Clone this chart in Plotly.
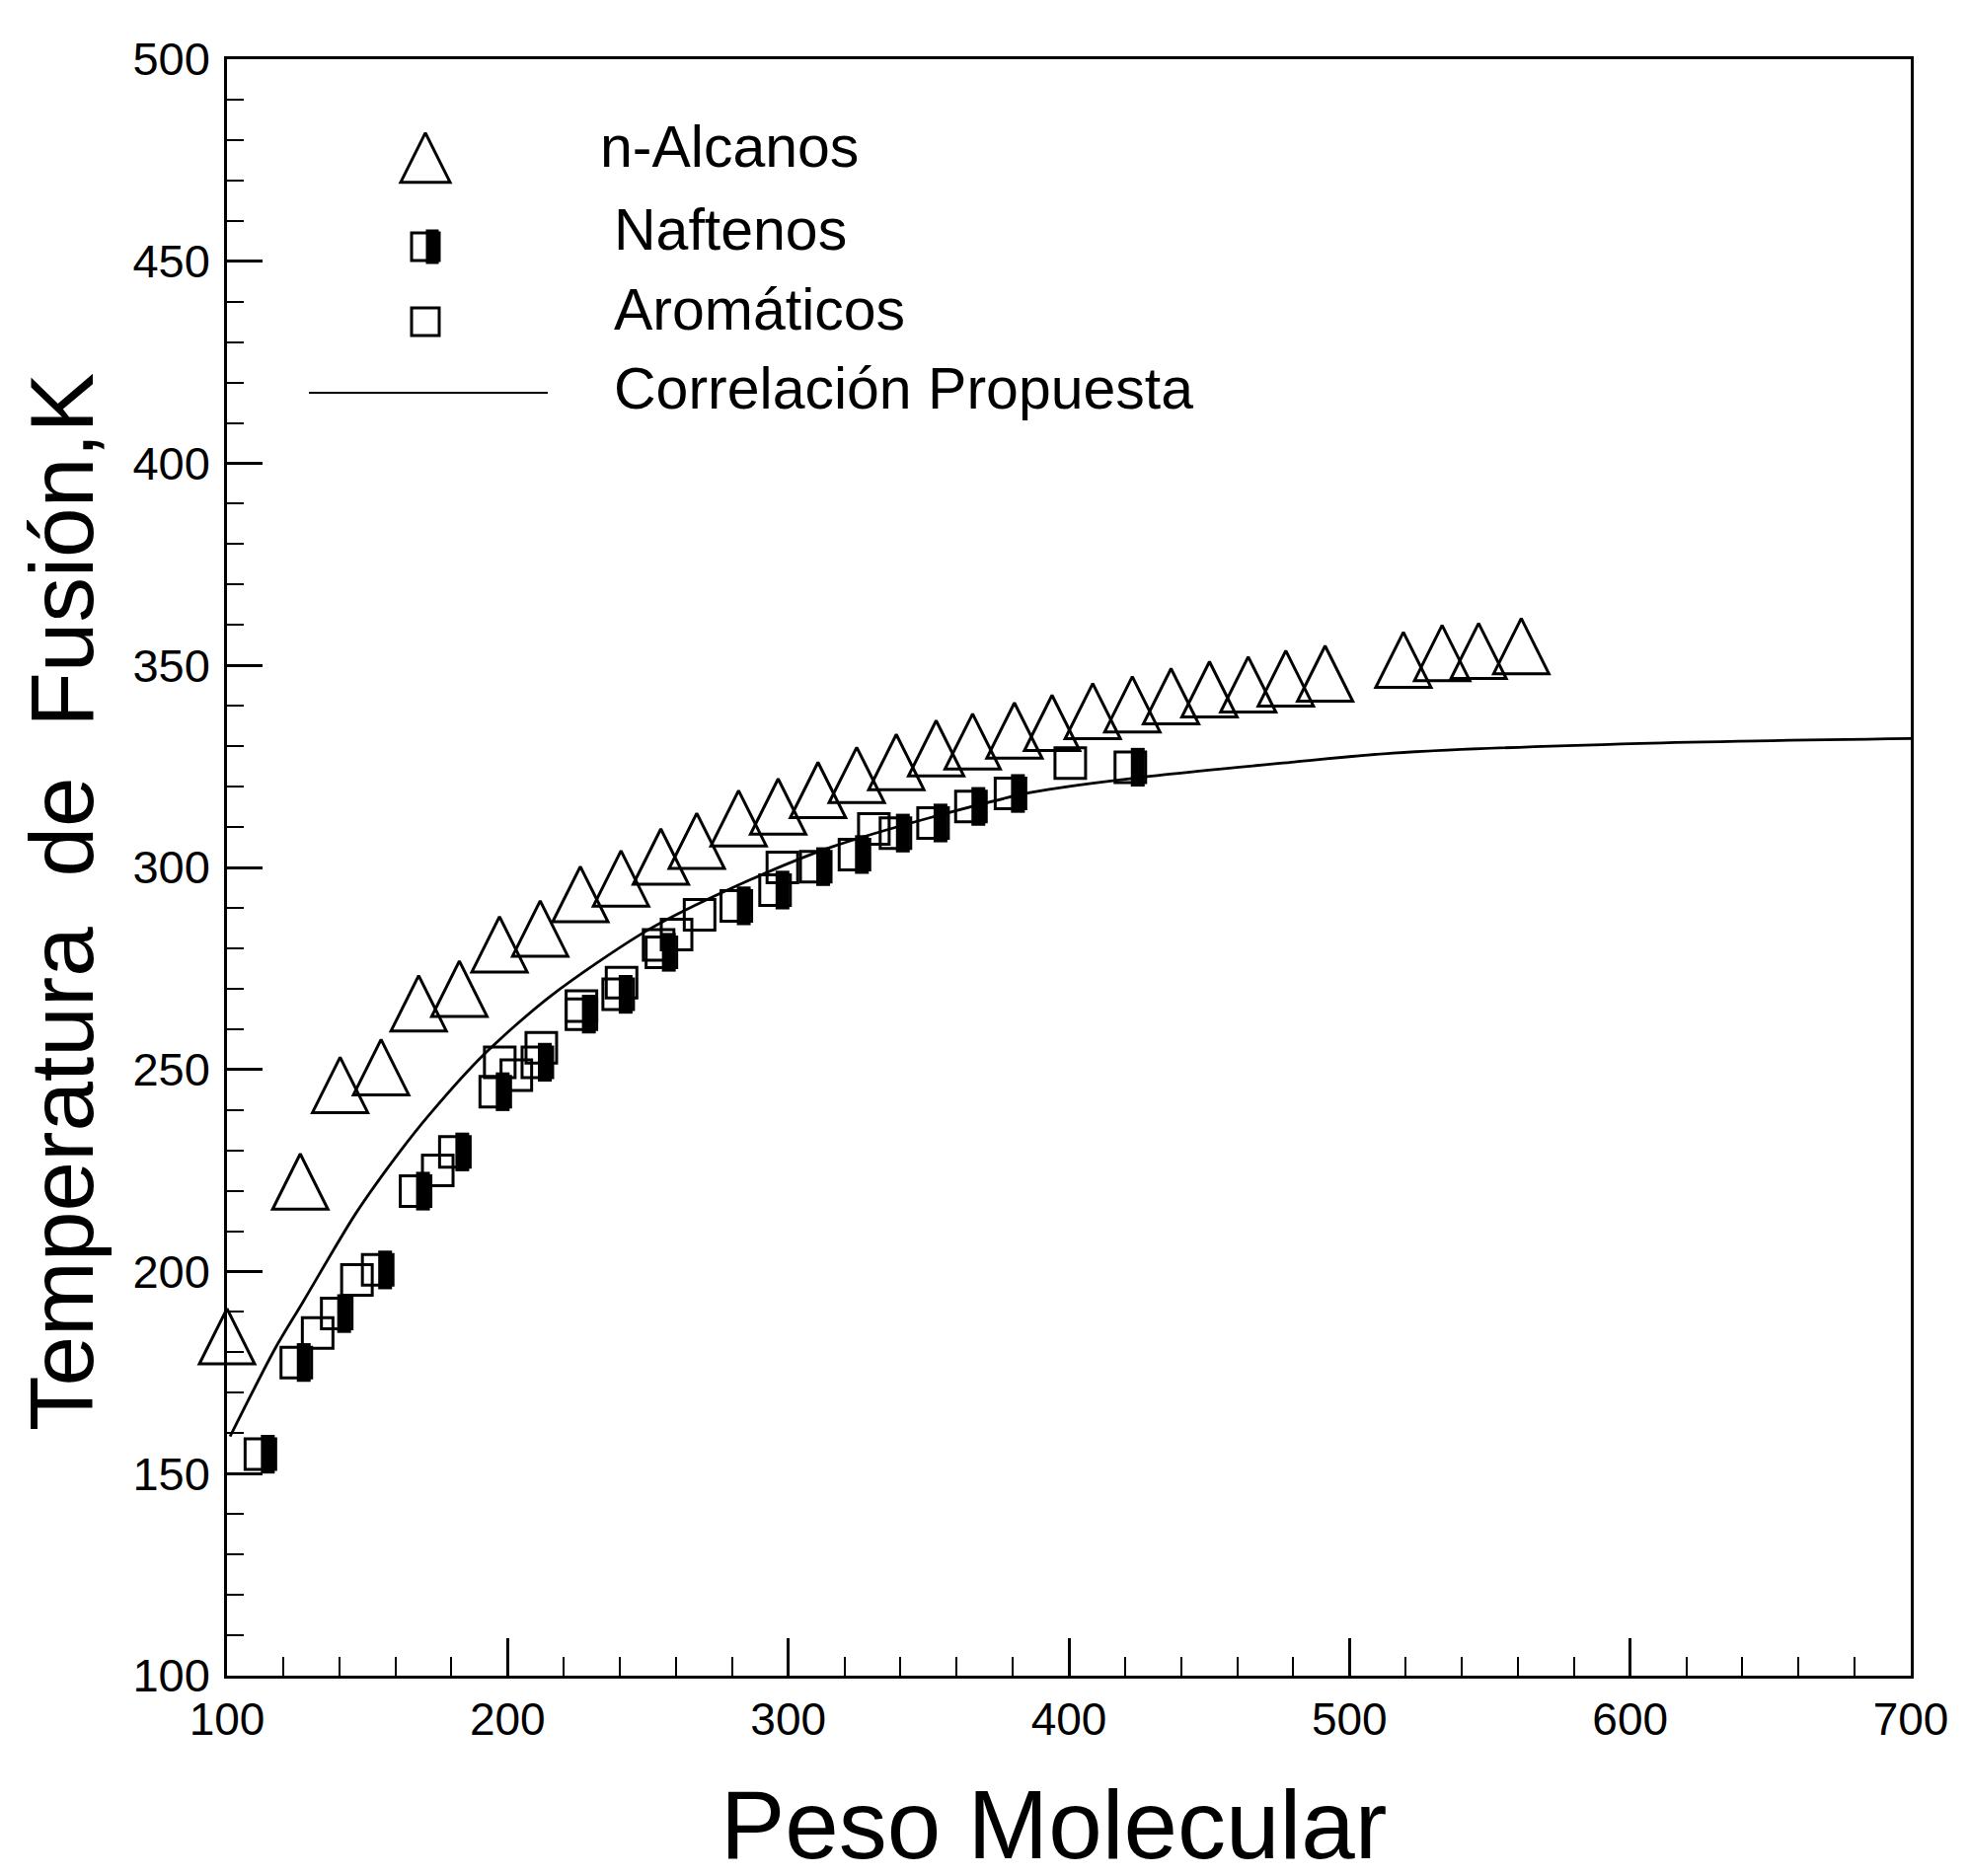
import plotly.graph_objects as go

# ---------------- data ----------------
# n-Alcanos
alc_mw = [100.0, 126.1, 140.3, 154.9, 168.3, 182.8, 197.1, 211.6, 225.9, 240.4,
          254.6, 267.4, 282.3, 296.4, 310.6, 324.4, 338.5, 352.7, 365.7, 380.6,
          394.0, 408.5, 422.6, 436.4, 450.1, 463.9, 477.3, 491.3, 519.2, 533.0,
          546.0, 561.2]
alc_tf = [181.7, 220.0, 243.9, 248.3, 264.1, 267.7, 278.7, 282.6, 291.1, 295.0,
          300.4, 304.3, 309.9, 312.8, 316.9, 320.6, 323.8, 327.2, 328.9, 331.6,
          333.5, 336.4, 338.1, 340.1, 341.8, 343.0, 344.5, 345.7, 349.1, 350.8,
          351.3, 352.5]

# Naftenos
naf_mw = [111.9, 124.7, 139.1, 153.7, 167.2, 181.2, 195.6, 210.6, 226.3, 239.4,
          254.8, 281.5, 295.3, 309.8, 323.6, 338.2, 351.6, 365.1, 379.2, 421.9]
naf_tf = [154.8, 177.5, 189.6, 200.4, 219.9, 229.6, 244.5, 251.8, 263.7, 268.6,
          279.0, 290.5, 294.4, 300.2, 303.2, 308.5, 311.0, 315.1, 318.3, 324.8]

# Aromáticos
aro_mw = [132.3, 146.3, 175.1, 197.2, 203.1, 212.0, 226.3, 240.6, 253.8, 260.2,
          268.4, 297.9, 330.5, 400.5]
aro_tf = [184.8, 197.9, 225.0, 251.8, 248.6, 255.4, 265.7, 271.5, 280.8, 283.4,
          288.3, 300.0, 309.5, 325.8]

# Correlación Propuesta
cor_mw = [101.1, 117.1, 127.1, 146.0, 161.5, 172.3, 191.2, 215.2, 249.7, 280.2,
          315.6, 386.2, 433.5, 480.3, 515.6, 603.6, 700.0]
cor_tf = [159.2, 180.9, 192.5, 214.5, 229.6, 239.0, 253.5, 268.1, 284.4, 295.0,
          305.1, 318.5, 322.9, 326.1, 328.3, 330.7, 331.9]

x_tick_vals = [100, 200, 300, 400, 500, 600, 700]
y_tick_vals = [100, 150, 200, 250, 300, 350, 400, 450, 500]

series_names = ["n-Alcanos", "Naftenos", "Aromáticos", "Correlación Propuesta"]
x_title = "Peso Molecular"
y_title = "Temperatura\u00a0 de\u00a0 Fusión,K"

# ---------------- layout constants ----------------
FIG_W, FIG_H = 1995, 1901
M_L, M_R, M_T, M_B = 222, 67, 52, 211
PLOT_W = FIG_W - M_L - M_R
PLOT_H = FIG_H - M_T - M_B
X_RANGE = [100, 700]
Y_RANGE = [100, 500]
FONT = "Liberation Sans, Arial, sans-serif"
INK = "black"

TRI_SIZE = 56                 # "arrow-up" marker: apex at anchor, width = height = size
SQ_SIZE = 31
MK_LW = 3
FILL_SHIFT_PX = 7.5           # right half of the Naftenos marker is solid
FILL_W = 14

px_per_x = PLOT_W / (X_RANGE[1] - X_RANGE[0])
px_per_y = PLOT_H / (Y_RANGE[1] - Y_RANGE[0])
fill_dx = FILL_SHIFT_PX / px_per_x
# lift the apex so that the triangle's centroid sits on the data value
tri_dy = (2.0 / 3.0) * TRI_SIZE / px_per_y


def paper_x(px):
    return (px - M_L) / PLOT_W


def paper_y(py):
    return (M_T + PLOT_H - py) / PLOT_H


fig = go.Figure()

fig.add_trace(go.Scatter(
    x=alc_mw, y=[v + tri_dy for v in alc_tf], mode="markers", name=series_names[0],
    showlegend=False, cliponaxis=False, customdata=alc_tf,
    hovertemplate="%{x}, %{customdata}<extra></extra>",
    marker=dict(symbol="arrow-up-open", size=TRI_SIZE, color=INK,
                line=dict(width=MK_LW, color=INK))))

fig.add_trace(go.Scatter(
    x=aro_mw, y=aro_tf, mode="markers", name=series_names[2], showlegend=False,
    marker=dict(symbol="square-open", size=SQ_SIZE, color=INK,
                line=dict(width=MK_LW, color=INK))))

fig.add_trace(go.Scatter(
    x=naf_mw, y=naf_tf, mode="markers", name=series_names[1], showlegend=False,
    marker=dict(symbol="square-open", size=SQ_SIZE, color=INK,
                line=dict(width=MK_LW, color=INK))))
fig.add_trace(go.Scatter(
    x=[v + fill_dx for v in naf_mw], y=naf_tf, mode="markers", showlegend=False,
    hoverinfo="skip",
    marker=dict(symbol="line-ns", size=SQ_SIZE - 3, color=INK,
                line=dict(width=FILL_W, color=INK))))

fig.add_trace(go.Scatter(
    x=cor_mw, y=cor_tf, mode="lines", name=series_names[3], showlegend=False,
    line=dict(color=INK, width=2.8, shape="spline", smoothing=0.8)))

# ---------------- hand-drawn style legend (on a hidden pixel overlay) ----------------
LEG_MK_X = 201
LEG_TRI_Y = 108
LEG_TRI_SIZE = 50
LEG_NAF_Y = 190
LEG_ARO_Y = 266
LEG_LINE_Y = 338
LEG_LINE_X = [83, 325]
LEG_TEXT_X = [598, 612, 612, 612]
LEG_TEXT_Y = [141, 225, 306, 386]

fig.add_trace(go.Scatter(
    x=[LEG_MK_X], y=[LEG_TRI_Y - (2.0 / 3.0) * LEG_TRI_SIZE], xaxis="x2", yaxis="y2",
    mode="markers", showlegend=False, hoverinfo="skip",
    marker=dict(symbol="arrow-up-open", size=LEG_TRI_SIZE, color=INK,
                line=dict(width=MK_LW, color=INK))))
fig.add_trace(go.Scatter(
    x=[LEG_MK_X, LEG_MK_X], y=[LEG_NAF_Y, LEG_ARO_Y], xaxis="x2", yaxis="y2",
    mode="markers", showlegend=False, hoverinfo="skip",
    marker=dict(symbol="square-open", size=SQ_SIZE - 3, color=INK,
                line=dict(width=MK_LW, color=INK))))
fig.add_trace(go.Scatter(
    x=[LEG_MK_X + FILL_SHIFT_PX - 0.5], y=[LEG_NAF_Y], xaxis="x2", yaxis="y2",
    mode="markers", showlegend=False, hoverinfo="skip",
    marker=dict(symbol="line-ns", size=SQ_SIZE - 6, color=INK,
                line=dict(width=FILL_W - 1, color=INK))))
fig.add_trace(go.Scatter(
    x=LEG_LINE_X, y=[LEG_LINE_Y, LEG_LINE_Y], xaxis="x2", yaxis="y2",
    mode="lines", showlegend=False, hoverinfo="skip",
    line=dict(color=INK, width=2.2)))

annotations = []
for name, tx, ty in zip(series_names, LEG_TEXT_X, LEG_TEXT_Y):
    annotations.append(dict(
        text=name, xref="paper", yref="paper", x=paper_x(tx), y=paper_y(ty),
        xanchor="left", yanchor="middle", showarrow=False,
        font=dict(family=FONT, size=59, color=INK)))

# axis titles
annotations.append(dict(
    text=x_title, xref="paper", yref="paper", x=paper_x(1059), y=paper_y(1841),
    xanchor="center", yanchor="middle", showarrow=False,
    font=dict(family=FONT, size=98, color=INK)))
annotations.append(dict(
    text=y_title, xref="paper", yref="paper", x=paper_x(55), y=paper_y(906),
    xanchor="center", yanchor="middle", showarrow=False, textangle=-90,
    font=dict(family=FONT, size=91, color=INK)))

axis_common = dict(
    showgrid=False, zeroline=False, showline=True, linecolor=INK, linewidth=2.5,
    mirror=True, ticks="inside", tickcolor=INK, tickwidth=2.5)

fig.update_layout(
    width=FIG_W, height=FIG_H, autosize=False,
    margin=dict(l=M_L, r=M_R, t=M_T, b=M_B),
    paper_bgcolor="white", plot_bgcolor="white",
    showlegend=False,
    xaxis=dict(range=X_RANGE, tickmode="array", tickvals=x_tick_vals,
               ticklen=38, ticklabelstandoff=2,
               tickfont=dict(family=FONT, size=46, color=INK),
               minor=dict(dtick=20, ticklen=19, tickwidth=2, ticks="inside",
                          tickcolor=INK),
               **axis_common),
    yaxis=dict(range=Y_RANGE, tickmode="array", tickvals=y_tick_vals,
               ticklen=36, ticklabelstandoff=5,
               tickfont=dict(family=FONT, size=47, color=INK),
               minor=dict(dtick=10, ticklen=17, tickwidth=2, ticks="inside",
                          tickcolor=INK),
               **axis_common),
    xaxis2=dict(range=[0, PLOT_W], overlaying="x", visible=False, fixedrange=True),
    yaxis2=dict(range=[PLOT_H, 0], overlaying="y", visible=False, fixedrange=True),
    annotations=annotations,
)

fig.write_html("out.html")
